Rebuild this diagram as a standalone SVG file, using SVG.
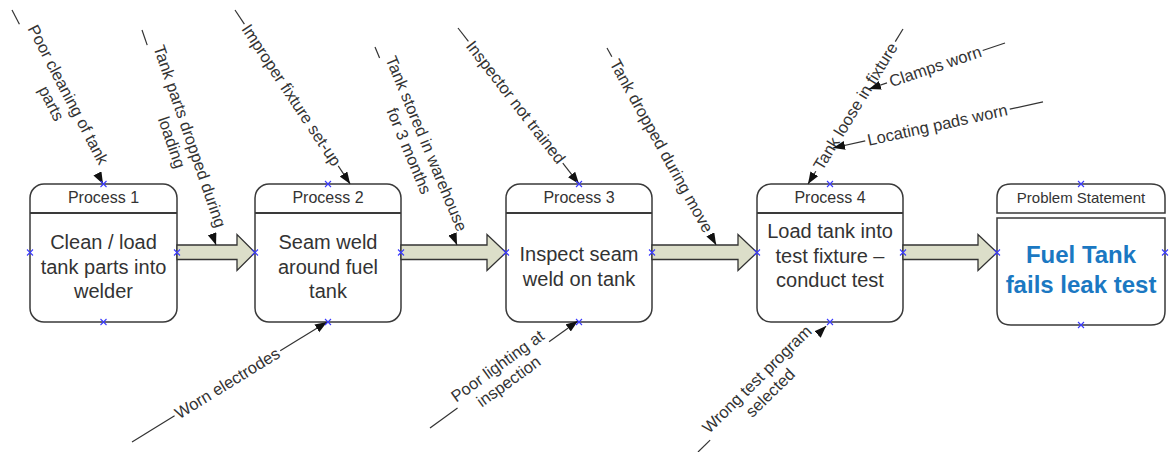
<svg xmlns="http://www.w3.org/2000/svg" width="1170" height="452" viewBox="0 0 1170 452">
<style>
  .box{fill:#fff;stroke:#3a3a3a;stroke-width:1.5}
  .div{stroke:#3a3a3a;stroke-width:2}
  .hdr{font-family:"Liberation Sans",Arial,sans-serif;font-size:16px;fill:#333;text-anchor:middle}
  .hdr2{font-family:"Liberation Sans",Arial,sans-serif;font-size:15px;fill:#333;text-anchor:middle}
  .body{font-family:"Liberation Sans",Arial,sans-serif;font-size:20px;fill:#333;text-anchor:middle}
  .prob{font-family:"Liberation Sans",Arial,sans-serif;font-size:24px;font-weight:bold;fill:#1b78c2;text-anchor:middle}
  .blk{fill:#dcdec9;stroke:#333;stroke-width:1.3;stroke-linejoin:miter}
  .ln{fill:none;stroke:#333;stroke-width:1.2}
  .arr{marker-end:url(#ah)}
  .ct{font-family:"Liberation Sans",Arial,sans-serif;font-size:16.5px;fill:#333;text-anchor:middle}
  .mk{fill:none;stroke:#3b3bff;stroke-width:1.1}
</style>
<defs>
  <marker id="ah" markerUnits="userSpaceOnUse" markerWidth="13" markerHeight="10" refX="12" refY="4.5" orient="auto">
    <path d="M0,0 L12,4.5 L0,9 z" fill="#111"/>
  </marker>
  <path id="x" d="M-3,-3 L3,3 M-3,3 L3,-3"/>
</defs>
<rect width="1170" height="452" fill="#fff"/>

<g id="node-p1">
  <rect class="box" x="30" y="184" width="147" height="138" rx="14"/>
  <line class="div" x1="30" y1="213" x2="177" y2="213"/>
  <text class="hdr" x="103.5" y="203">Process 1</text>
  <text class="body" x="103.5" y="249">Clean / load</text>
  <text class="body" x="103.5" y="273.5">tank parts into</text>
  <text class="body" x="103.5" y="298">welder</text>
</g>
<g id="node-p2">
  <rect class="box" x="255" y="184" width="146" height="138" rx="14"/>
  <line class="div" x1="255" y1="213" x2="401" y2="213"/>
  <text class="hdr" x="328" y="203">Process 2</text>
  <text class="body" x="328" y="249">Seam weld</text>
  <text class="body" x="328" y="273.5">around fuel</text>
  <text class="body" x="328" y="298">tank</text>
</g>
<g id="node-p3">
  <rect class="box" x="506" y="184" width="146" height="138" rx="14"/>
  <line class="div" x1="506" y1="213" x2="652" y2="213"/>
  <text class="hdr" x="579" y="203">Process 3</text>
  <text class="body" x="579" y="261">Inspect seam</text>
  <text class="body" x="579" y="285.5">weld on tank</text>
</g>
<g id="node-p4">
  <rect class="box" x="757" y="184" width="146" height="138" rx="14"/>
  <line class="div" x1="757" y1="213" x2="903" y2="213"/>
  <text class="hdr" x="830" y="203">Process 4</text>
  <text class="body" x="830" y="238">Load tank into</text>
  <text class="body" x="830" y="262.5">test fixture –</text>
  <text class="body" x="830" y="287">conduct test</text>
</g>
<g id="node-ps">
  <path class="box" d="M997,213 V198 Q997,184 1011,184 H1151 Q1165,184 1165,198 V213 Z"/>
  <path class="box" d="M997,218 H1165 V311 Q1165,325 1151,325 H1011 Q997,325 997,311 Z"/>
  <text class="hdr2" x="1081" y="203">Problem Statement</text>
  <text class="prob" x="1081" y="263">Fuel Tank</text>
  <text class="prob" x="1081" y="293">fails leak test</text>
</g>

<g id="connectors">
  <polygon class="blk" points="177,245 237,245 237,234.5 255,252.5 237,270.5 237,259.5 177,259.5"/>
  <polygon class="blk" points="401,245 487,245 487,234.5 506,252.5 487,270.5 487,259.5 401,259.5"/>
  <polygon class="blk" points="652,245 738,245 738,234.5 757,252.5 738,270.5 738,259.5 652,259.5"/>
  <polygon class="blk" points="903,245 978,245 978,234.5 997,252.5 978,270.5 978,259.5 903,259.5"/>

  <g transform="translate(12,10) rotate(62.4)">
    <path class="ln" d="M0,0 H16"/><path class="ln arr" d="M186,0 H196.4"/>
    <text class="ct" x="101" y="-5">Poor cleaning of tank</text>
    <text class="ct" x="101" y="14">parts</text>
  </g>
  <g transform="translate(142,30) rotate(71)">
    <path class="ln" d="M0,0 H16"/><path class="ln arr" d="M216,0 H227.4"/>
    <text class="ct" x="116" y="-5">Tank parts dropped during</text>
    <text class="ct" x="116" y="14">loading</text>
  </g>
  <g transform="translate(235,10) rotate(56.5)">
    <path class="ln" d="M0,0 H17"/><path class="ln arr" d="M187,0 H208.6"/>
    <text class="ct" x="102" y="5.5">Improper fixture set-up</text>
  </g>
  <g transform="translate(375,47) rotate(67.5)">
    <path class="ln" d="M0,0 H12"/><path class="ln arr" d="M206,0 H214.3"/>
    <text class="ct" x="109" y="-5">Tank stored in warehouse</text>
    <text class="ct" x="109" y="14">for 3 months</text>
  </g>
  <g transform="translate(458,28) rotate(52.2)">
    <path class="ln" d="M0,0 H17"/><path class="ln arr" d="M171,0 H197.4"/>
    <text class="ct" x="94" y="5.5">Inspector not trained</text>
  </g>
  <g transform="translate(607,48) rotate(61)">
    <path class="ln" d="M0,0 H10"/><path class="ln arr" d="M213.5,0 H225.1"/>
    <text class="ct" x="112" y="5.5">Tank dropped during move</text>
  </g>
  <g transform="translate(808,184) rotate(-58.5)">
    <path class="ln arr" d="M15,0 H0"/><path class="ln" d="M167,0 H181.8"/>
    <text class="ct" x="91" y="5.5">Tank loose in fixture</text>
  </g>
  <g transform="translate(869,89) rotate(-18.7)">
    <path class="ln arr" d="M19,0 H0"/><path class="ln" d="M120,0 H143.6"/>
    <text class="ct" x="70" y="5.5">Clamps worn</text>
  </g>
  <g transform="translate(833,148) rotate(-12.4)">
    <path class="ln arr" d="M33,0 H0"/><path class="ln" d="M181,0 H215"/>
    <text class="ct" x="107" y="5.5">Locating pads worn</text>
  </g>
  <g transform="translate(132,442) rotate(-31.6)">
    <path class="ln" d="M0,0 H50"/><path class="ln arr" d="M174,0 H229"/>
    <text class="ct" x="112" y="5.5">Worn electrodes</text>
  </g>
  <g transform="translate(430,428) rotate(-35.9)">
    <path class="ln" d="M0,0 H34"/><path class="ln arr" d="M147,0 H182.6"/>
    <text class="ct" x="91" y="-5">Poor lighting at</text>
    <text class="ct" x="91" y="14">inspection</text>
  </g>
  <g transform="translate(698,452) rotate(-44.5)">
    <path class="ln" d="M0,0 H17"/><path class="ln arr" d="M168,0 H179.6"/>
    <text class="ct" x="93" y="-5">Wrong test program</text>
    <text class="ct" x="93" y="14">selected</text>
  </g>
</g>

<g id="connection-points" class="mk">
  <use href="#x" x="103.5" y="184"/><use href="#x" x="103.5" y="322"/><use href="#x" x="30" y="252.5"/><use href="#x" x="177" y="252.5"/>
  <use href="#x" x="328" y="184"/><use href="#x" x="328" y="322"/><use href="#x" x="255" y="252.5"/><use href="#x" x="401" y="252.5"/>
  <use href="#x" x="579" y="184"/><use href="#x" x="579" y="322"/><use href="#x" x="506" y="252.5"/><use href="#x" x="652" y="252.5"/>
  <use href="#x" x="830" y="184"/><use href="#x" x="830" y="322"/><use href="#x" x="757" y="252.5"/><use href="#x" x="903" y="252.5"/>
  <use href="#x" x="1081" y="184"/><use href="#x" x="1081" y="325"/><use href="#x" x="997" y="252.5"/><use href="#x" x="1165" y="252.5"/>
</g>
</svg>
